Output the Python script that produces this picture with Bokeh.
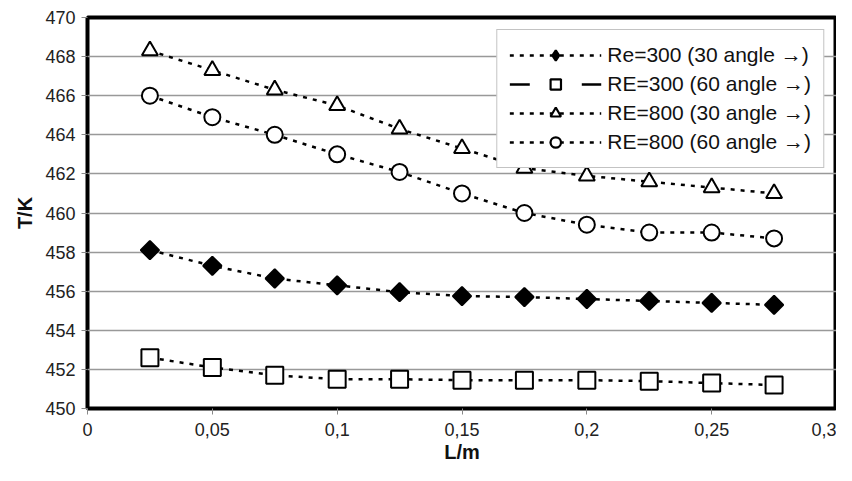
import math
from bokeh.plotting import figure
from bokeh.embed import file_html
from bokeh.resources import INLINE
from bokeh.models import FixedTicker, Legend, LegendItem, ColumnDataSource

L = [0.025, 0.05, 0.075, 0.1, 0.125, 0.15, 0.175, 0.2, 0.225, 0.25, 0.275]
re300_30 = [458.1, 457.3, 456.65, 456.3, 455.95, 455.75, 455.7, 455.6, 455.5, 455.4, 455.3]
re300_60 = [452.6, 452.1, 451.7, 451.5, 451.5, 451.45, 451.45, 451.45, 451.4, 451.3, 451.2]
re800_30 = [468.3, 467.3, 466.3, 465.5, 464.3, 463.3, 462.3, 461.9, 461.6, 461.3, 461.0]
re800_60 = [466.0, 464.9, 464.0, 463.0, 462.1, 461.0, 460.0, 459.4, 459.0, 459.0, 458.7]
labels = ["Re=300 (30 angle \u2192)", "RE=300 (60 angle \u2192)",
          "RE=800 (30 angle \u2192)", "RE=800 (60 angle \u2192)"]
x_ticks = [0, 0.05, 0.1, 0.15, 0.2, 0.25, 0.3]
x_tick_labels = ["0", "0,05", "0,1", "0,15", "0,2", "0,25", "0,3"]
y_ticks = list(range(450, 471, 2))

FONT = "Liberation Sans"

p = figure(width=836, height=465, x_range=(0, 0.3), y_range=(450, 470),
           output_backend="svg", toolbar_location=None,
           min_border_left=87, min_border_right=0, min_border_top=17, min_border_bottom=50)

p.outline_line_color = "black"
p.outline_line_width = 4
p.xgrid.visible = False
p.ygrid.grid_line_color = "#999999"
p.ygrid.grid_line_width = 1.5

xa = p.xaxis[0]
ya = p.yaxis[0]
xa.ticker = FixedTicker(ticks=x_ticks)
xa.major_label_overrides = {t: s for t, s in zip(x_ticks, x_tick_labels)}
ya.ticker = FixedTicker(ticks=y_ticks)
for ax in (xa, ya):
    ax.axis_line_color = None
    ax.major_tick_line_color = "#888888"
    ax.major_tick_out = 6
    ax.major_tick_in = 0
    ax.minor_tick_line_color = None
    ax.major_label_text_font = FONT
    ax.major_label_text_font_size = "18px"
    ax.major_label_text_color = "#222222"
    ax.axis_label_text_font = FONT
    ax.axis_label_text_font_size = "20px"
    ax.axis_label_text_font_style = "bold"
    ax.axis_label_text_color = "#111111"
xa.axis_label = "L/m"
ya.axis_label = "T/K"
xa.major_label_standoff = 8
xa.axis_label_standoff = 2
ya.major_label_standoff = 6
ya.axis_label_standoff = 6

dash = "4 6"
lw = 2.5
series = [re300_30, re300_60, re800_30, re800_60]
markers = ["square", "square", "triangle", "circle"]
angles = [math.pi / 4, 0, 0, 0]
sizes = [13, 17, 16, 16]
leg_markers = ["diamond", "square", "triangle", "circle"]
leg_sizes = [17, 12, 12, 12]
fills = ["black", "white", "white", "white"]
legend_dash = [dash, "20 52", dash, dash]

items = []
nan = float("nan")
for ys, m, a, s, lm, ls, f, ld, lab in zip(series, markers, angles, sizes, leg_markers,
                                           leg_sizes, fills, legend_dash, labels):
    p.line(L, ys, line_color="black", line_width=lw, line_dash=dash)
    p.scatter(L, ys, marker=m, angle=a, size=s, fill_color=f, line_color="black", line_width=2)
    # legend-only renderers (not visible in the plot area)
    src = ColumnDataSource(dict(x=[nan], y=[nan]))
    lr = p.line("x", "y", source=src, line_color="black", line_width=lw, line_dash=ld)
    sr = p.scatter("x", "y", source=src, marker=lm, size=ls, fill_color=f,
                   line_color="black", line_width=2.2)
    items.append(LegendItem(label=lab, renderers=[lr, sr]))

legend = Legend(items=items, location="top_right")
legend.margin = 12
legend.border_line_color = "#888888"
legend.border_line_width = 1.5
legend.label_text_font = FONT
legend.label_text_font_size = "21px"
legend.label_text_color = "#111111"
legend.glyph_width = 92
legend.glyph_height = 26
legend.label_height = 26
legend.spacing = 3
legend.padding = 12
legend.label_standoff = 6
legend.background_fill_alpha = 1
p.add_layout(legend)

open("out.html", "w").write(file_html(p, INLINE))
